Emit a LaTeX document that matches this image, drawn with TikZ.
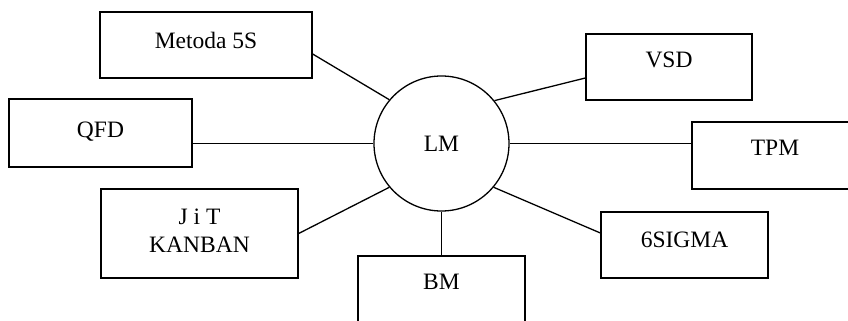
\documentclass[tikz,border=0pt]{standalone}
\usepackage{fontspec}
\setmainfont{Liberation Serif}
\usetikzlibrary{calc}
\begin{document}
\begin{tikzpicture}[x=1pt,y=-1pt,line width=1.3pt,
  box/.style={draw,inner sep=0pt},
  txt/.style={font=\fontsize{23.5}{28}\selectfont,align=center,inner sep=0pt,text depth=0pt},
  link/.style={draw}]
\useasboundingbox (0,0) rectangle (848,321);

% central circle
\node[draw,circle,minimum size=135pt,inner sep=0pt] (lm) at (441.5,143.5) {};
\node[txt] (lmt) at (441.5,143.5) {LM};

% surrounding boxes
\node[box,minimum width=212pt,minimum height=66pt] (m5s) at (206,45) {};
\node[box,minimum width=183pt,minimum height=68pt] (qfd) at (100.5,133) {};
\node[box,minimum width=166pt,minimum height=66pt] (vsd) at (669,67) {};
\node[box,minimum width=166pt,minimum height=67pt] (tpm) at (775,155.5) {};
\node[box,minimum width=197pt,minimum height=89pt] (jit) at (199.5,233.5) {};
\node[box,minimum width=167pt,minimum height=80pt] (bm) at (441.5,296) {};
\node[box,minimum width=167pt,minimum height=66pt] (six) at (684.5,245) {};

% box texts
\node[txt] (m5st) at (206,40) {Metoda 5S};
\node[txt] (qfdt) at (100.5,130) {QFD};
\node[txt] (vsdt) at (669,60) {VSD};
\node[txt] (tpmt) at (775,148) {TPM};
\node[txt] (jitt) at (199.5,231) {J i T\\KANBAN};
\node[txt] (bmt) at (441.5,282) {BM};
\node[txt] (sixt) at (684.5,240) {6SIGMA};

% connectors
\draw[link] (lm.140) -- ($(m5s.east)+(0,9)$);
\draw[link] (lm.west) -- (lm.west -| qfd.east);
\draw[link] (lm.39) -- ($(vsd.west)+(0,11)$);
\draw[link] (lm.east) -- (lm.east -| tpm.west);
\draw[link] (lm.220) -- (jit.east);
\draw[link] (lm.south) -- (bm.north);
\draw[link] (lm.320) -- ($(six.west)+(0,-12)$);
\end{tikzpicture}
\end{document}
